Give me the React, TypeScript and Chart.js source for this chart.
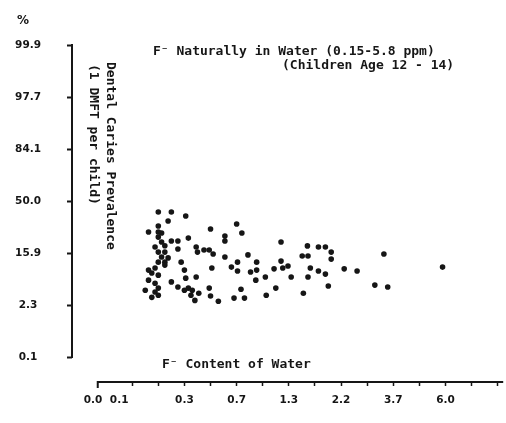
import React, { useEffect, useRef } from "react";
import { Chart, registerables } from "chart.js";

Chart.register(...registerables);

// ---- Data ----
// Fluoride content of water (ppm) for each community
const FLUORIDE_PPM = [
  0.22, 0.26, 0.31, 0.25, 0.22, 0.19, 0.22, 0.22, 0.23, 0.21,
  0.22, 0.23, 0.24, 0.22, 0.25, 0.26, 0.28, 0.28, 0.33, 0.39,
  0.40, 0.29, 0.30, 0.19, 0.21, 0.22, 0.19, 0.21, 0.18, 0.21,
  0.22, 0.20, 0.26, 0.28, 0.31, 0.33, 0.39, 0.35, 0.38, 0.30,
  0.41, 0.50, 0.70, 0.76, 0.61, 0.61, 0.45, 0.49, 0.52, 0.61,
  0.83, 0.71, 0.93, 1.21, 1.21, 1.23, 1.29, 1.13, 0.51, 0.66,
  0.71, 0.86, 0.93, 0.92, 1.03, 1.34, 0.75, 1.15, 1.04, 0.49,
  0.50, 0.56, 0.68, 0.79, 1.62, 1.81, 1.93, 2.03, 1.53, 1.63,
  2.03, 3.43, 1.67, 1.81, 1.93, 2.29, 2.66, 1.63, 1.98, 1.55,
  3.17, 3.54, 5.87, 0.23, 0.24, 0.24, 0.20, 0.22, 0.24, 0.36,
];
// Dental caries prevalence (% of children with >= 1 DMFT)
const CARIES_PCT = [
  41.6, 41.6, 38.7, 35.0, 31.5, 27.6, 27.6, 24.4, 21.5, 18.8,
  16.3, 14.1, 12.0, 12.0, 13.7, 22.1, 22.1, 17.8, 23.8, 18.8,
  16.3, 12.0, 9.2, 9.2, 9.9, 7.7, 6.4, 5.7, 4.3, 4.0,
  4.7, 3.2, 6.0, 4.9, 6.9, 4.7, 7.2, 3.5, 2.8, 4.3,
  3.8, 29.5, 32.9, 26.9, 25.0, 22.1, 17.3, 17.3, 15.4, 14.1,
  15.0, 12.0, 12.0, 21.5, 12.4, 9.9, 10.6, 9.6, 9.9, 10.2,
  8.9, 8.6, 9.2, 6.4, 7.2, 7.2, 4.5, 4.7, 3.5, 4.7,
  3.4, 2.7, 3.1, 3.1, 19.4, 18.8, 18.8, 16.3, 14.5, 14.5,
  13.2, 15.4, 9.9, 8.9, 8.0, 9.6, 8.9, 7.2, 5.1, 3.8,
  5.3, 4.9, 10.2, 26.9, 19.5, 16.3, 8.3, 3.5, 10.9, 4.3,
];

// X axis: printed fluoride labels and their place on the printed scale
const X_TICK_LABELS = ["0.0", "0.1", "0.3", "0.7", "1.3", "2.2", "3.7", "6.0"];
const X_TICK_PPM = [0.0, 0.1, 0.3, 0.7, 1.3, 2.2, 3.7, 6.0];
const X_TICK_POS = [-1.5, -0.5, 2, 4, 6, 8, 10, 12];
const X_MINOR_POS = [0, 1, 2, 3, 4, 5, 6, 7, 8, 9, 10, 11, 12, 13, 14];

// Y axis: normal-probability scale, ticks at -3..3 sigma
const Y_TICK_SIGMA = [-3, -2, -1, 0, 1, 2, 3];
const Y_TICK_LABELS = ["0.1", "2.3", "15.9", "50.0", "84.1", "97.7", "99.9"];

const TITLE_LINE_1 = "F\u207B Naturally in Water (0.15-5.8 ppm)";
const TITLE_LINE_2 = "(Children Age 12 - 14)";
const Y_TITLE_1 = "Dental Caries Prevalence";
const Y_TITLE_2 = "(1 DMFT per child)";
const X_TITLE = "F\u207B Content of Water";
const Y_UNIT = "%";

// ---- Scale transforms ----
function ppmToPos(p: number): number {
  const n = X_TICK_PPM.length;
  for (let i = 0; i < n - 1; i++) {
    if (p <= X_TICK_PPM[i + 1] || i === n - 2) {
      const t = (p - X_TICK_PPM[i]) / (X_TICK_PPM[i + 1] - X_TICK_PPM[i]);
      return X_TICK_POS[i] + t * (X_TICK_POS[i + 1] - X_TICK_POS[i]);
    }
  }
  return X_TICK_POS[n - 1];
}

function probit(p: number): number {
  const a = [-3.969683028665376e1, 2.209460984245205e2, -2.759285104469687e2, 1.38357751867269e2, -3.066479806614716e1, 2.506628277459239];
  const b = [-5.447609879822406e1, 1.615858368580409e2, -1.556989798598866e2, 6.680131188771972e1, -1.328068155288572e1];
  const c = [-7.784894002430293e-3, -3.223964580411365e-1, -2.400758277161838, -2.549732539343734, 4.374664141464968, 2.938163982698783];
  const d = [7.784695709041462e-3, 3.224671290700398e-1, 2.445134137142996, 3.754408661907416];
  const pl = 0.02425;
  const ph = 1 - pl;
  if (p < pl) {
    const q = Math.sqrt(-2 * Math.log(p));
    return (((((c[0] * q + c[1]) * q + c[2]) * q + c[3]) * q + c[4]) * q + c[5]) / ((((d[0] * q + d[1]) * q + d[2]) * q + d[3]) * q + 1);
  }
  if (p <= ph) {
    const q = p - 0.5;
    const r = q * q;
    return ((((((a[0] * r + a[1]) * r + a[2]) * r + a[3]) * r + a[4]) * r + a[5]) * q) / (((((b[0] * r + b[1]) * r + b[2]) * r + b[3]) * r + b[4]) * r + 1);
  }
  const q = Math.sqrt(-2 * Math.log(1 - p));
  return -(((((c[0] * q + c[1]) * q + c[2]) * q + c[3]) * q + c[4]) * q + c[5]) / ((((d[0] * q + d[1]) * q + d[2]) * q + d[3]) * q + 1);
}

const INK = "#161616";
const MONO = '"DejaVu Sans Mono", monospace';
const SANS = '"DejaVu Sans", sans-serif';

const near = (a: number, b: number) => Math.abs(a - b) < 1e-6;

export default function App() {
  const canvasRef = useRef<HTMLCanvasElement | null>(null);

  useEffect(() => {
    const canvas = canvasRef.current;
    if (!canvas) return;

    const points = FLUORIDE_PPM.map((f, i) => ({
      x: ppmToPos(f),
      y: probit(CARIES_PCT[i] / 100),
    }));

    const xTickValues = Array.from(new Set([...X_TICK_POS, ...X_MINOR_POS])).sort((p, q) => p - q);

    const decor = {
      id: "decor",
      afterDraw(chart: any) {
        const { ctx, chartArea, scales } = chart;
        const x = scales.x;
        const y = scales.y;
        ctx.save();
        ctx.strokeStyle = INK;
        ctx.lineWidth = 2;
        ctx.lineCap = "butt";
        // y axis line (probability scale from 0.1% to 99.9%)
        ctx.beginPath();
        ctx.moveTo(chartArea.left, y.getPixelForValue(Y_TICK_SIGMA[Y_TICK_SIGMA.length - 1]) - 1);
        ctx.lineTo(chartArea.left, y.getPixelForValue(Y_TICK_SIGMA[0]) + 1);
        ctx.stroke();
        // x axis line with a down-turned left end
        const xStart = x.getPixelForValue(-1.32);
        ctx.beginPath();
        ctx.moveTo(xStart, chartArea.bottom + 6);
        ctx.lineTo(xStart, chartArea.bottom);
        ctx.lineTo(chartArea.right, chartArea.bottom);
        ctx.stroke();

        ctx.fillStyle = INK;
        ctx.textBaseline = "middle";
        // unit
        ctx.font = `bold 12px ${SANS}`;
        ctx.textAlign = "center";
        ctx.fillText(Y_UNIT, 23, 21);
        // annotation
        ctx.font = `bold 13px ${MONO}`;
        ctx.textAlign = "left";
        ctx.fillText(TITLE_LINE_1, 153, 52);
        ctx.fillText(TITLE_LINE_2, 282, 66);
        ctx.fillText(X_TITLE, 162, 365);
        // rotated y title
        ctx.save();
        ctx.translate(110, 62);
        ctx.rotate(Math.PI / 2);
        ctx.fillText(Y_TITLE_1, 0, 0);
        ctx.restore();
        ctx.save();
        ctx.translate(93, 64);
        ctx.rotate(Math.PI / 2);
        ctx.fillText(Y_TITLE_2, 0, 0);
        ctx.restore();
        ctx.restore();
      },
    };

    const chart = new Chart(canvas, {
      type: "scatter",
      data: {
        datasets: [
          {
            data: points,
            pointRadius: 2.8,
            pointHoverRadius: 2.8,
            backgroundColor: INK,
            borderWidth: 0,
          },
        ],
      },
      options: {
        animation: false,
        responsive: false,
        maintainAspectRatio: false,
        events: [],
        layout: { padding: { top: 45, left: 0, right: 0, bottom: 0 } },
        plugins: {
          legend: { display: false },
          tooltip: { enabled: false },
          title: { display: false },
        },
        scales: {
          x: {
            type: "linear",
            min: -2.306,
            max: 14.21,
            afterFit: (s: any) => {
              s.height = 41;
            },
            afterBuildTicks: (s: any) => {
              s.ticks = xTickValues.map((v) => ({ value: v }));
            },
            ticks: {
              autoSkip: false,
              maxRotation: 0,
              padding: 8,
              color: INK,
              font: { family: SANS, size: 10.5, weight: "bold" },
              callback: (v: any) => {
                const i = X_TICK_POS.findIndex((p) => near(p, Number(v)));
                return i >= 0 ? X_TICK_LABELS[i] : "";
              },
            },
            grid: {
              drawOnChartArea: false,
              drawTicks: true,
              tickLength: 4,
              tickWidth: 1.5,
              tickColor: (ctx: any) =>
                ctx.tick && X_MINOR_POS.some((p) => near(p, ctx.tick.value)) ? INK : "rgba(0,0,0,0)",
            },
            border: { display: false },
          },
          y: {
            type: "linear",
            min: -3.48,
            max: 3,
            afterFit: (s: any) => {
              s.width = 72;
            },
            afterBuildTicks: (s: any) => {
              s.ticks = Y_TICK_SIGMA.map((v) => ({ value: v }));
            },
            ticks: {
              autoSkip: false,
              crossAlign: "center",
              padding: 26,
              color: INK,
              font: { family: SANS, size: 10.5, weight: "bold" },
              callback: (v: any) => {
                const i = Y_TICK_SIGMA.findIndex((p) => near(p, Number(v)));
                return i >= 0 ? Y_TICK_LABELS[i] : "";
              },
            },
            grid: {
              drawOnChartArea: false,
              drawTicks: true,
              tickLength: 5,
              tickWidth: 2,
              tickColor: INK,
            },
            border: { display: false },
          },
        },
      },
      plugins: [decor],
    } as any);

    return () => {
      chart.destroy();
    };
  }, []);

  return (
    <div style={{ position: "fixed", left: 0, top: 0, width: 506, height: 423, background: "#fff" }}>
      <canvas ref={canvasRef} width={506} height={423} style={{ display: "block", width: 506, height: 423 }} />
    </div>
  );
}
